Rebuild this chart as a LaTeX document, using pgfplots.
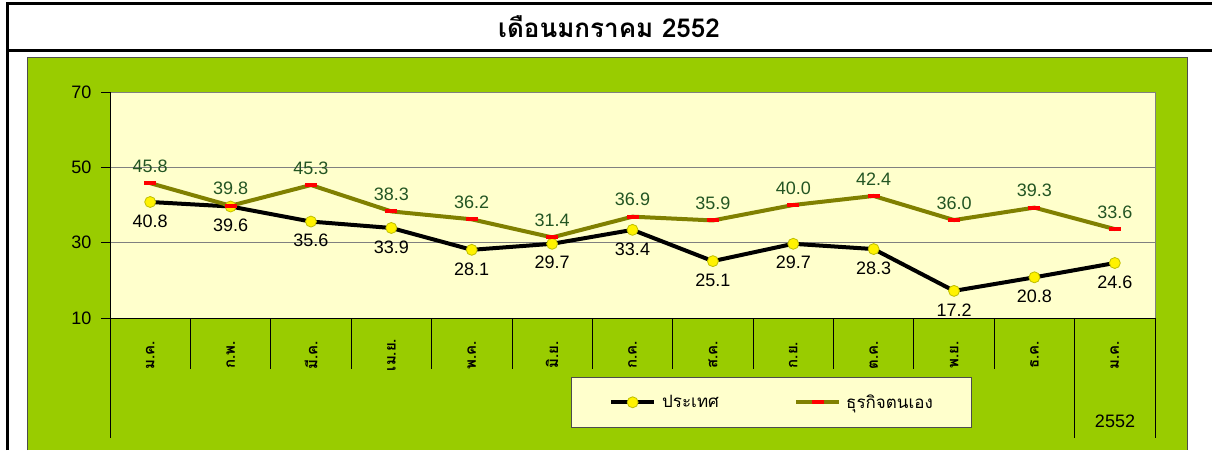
\documentclass[border=0pt]{standalone}
\usepackage{fontspec}
\setmainfont{Liberation Sans}
\newfontfamily\thaifont[Script=Thai]{Loma}
\usepackage{pgfplots}
\usepackage{pgfplotstable}
\pgfplotsset{compat=1.18}
\definecolor{limebg}{RGB}{153,204,0}
\definecolor{plotbg}{RGB}{255,255,204}
\definecolor{olivel}{RGB}{128,128,0}
\definecolor{lblgreen}{RGB}{35,85,35}
\definecolor{mkedge}{RGB}{190,190,0}

\pgfplotstableread{
x y lab
0 40.8 40.8
1 39.6 39.6
2 35.6 35.6
3 33.9 33.9
4 28.1 28.1
5 29.7 29.7
6 33.4 33.4
7 25.1 25.1
8 29.7 29.7
9 28.3 28.3
10 17.2 17.2
11 20.8 20.8
12 24.6 24.6
}\countrydata

\pgfplotstableread{
x y lab
0 45.8 45.8
1 39.8 39.8
2 45.3 45.3
3 38.3 38.3
4 36.2 36.2
5 31.4 31.4
6 36.9 36.9
7 35.9 35.9
8 40.0 40.0
9 42.4 42.4
10 36.0 36.0
11 39.3 39.3
12 33.6 33.6
}\owndata

\begin{document}
\begin{tikzpicture}[x=1pt,y=1pt]
\path[use as bounding box] (0,0) rectangle (1212,450);
\fill[white] (0,0) rectangle (1212,450);
\fill[limebg] (27,0) rectangle (1187,392);
\draw[black!70, line width=1pt] (27,0) -- (27,392) -- (1187,392) -- (1187,0);
\draw[line width=3pt] (7,0) -- (7,446) -- (1212,446);
\draw[line width=3pt] (7,399) -- (1212,399);
\node[font=\thaifont\bfseries\fontsize{26}{30}\selectfont] at (609,423) {เดือนมกราคม 2552};

\coordinate (axorigin) at (110,132);

\begin{axis}[
  at={(axorigin)}, anchor=south west,
  scale only axis, width=1045pt, height=226pt,
  xmin=-0.5, xmax=12.5, ymin=10, ymax=70,
  xtick=\empty, ytick={10,30,50,70},
  tick pos=left, tick align=outside, major tick length=9pt,
  ytick style={black, line width=0.8pt},
  ymajorgrids, grid style={gray, line width=0.6pt},
  axis background/.style={fill=plotbg},
  axis line style={gray, line width=0.8pt},
  tick label style={font=\fontsize{18}{21}\selectfont},
  yticklabel style={xshift=-6pt},
  /pgf/number format/assume math mode=true,
  clip=false,
  legend columns=2,
  legend style={at={(0.4411,-0.2611)}, anchor=north west, draw=black!70, fill=plotbg,
    font=\thaifont\fontsize{17}{20}\selectfont, inner xsep=38pt, inner ysep=17.5pt,
    nodes={inner sep=0pt}, /tikz/column sep=0pt},
  legend image code/.code={\draw[mark repeat=2,mark phase=2,#1] plot coordinates {(0pt,0pt) (21.5pt,0pt) (43pt,0pt)};},
]
\addplot[black, line width=4pt, line join=round, mark=*, mark size=5.5pt,
  mark options={fill=yellow, draw=mkedge, line width=0.8pt},
  nodes near coords, point meta=explicit symbolic,
  every node near coord/.style={font=\fontsize{18}{21}\selectfont, anchor=center, yshift=-19pt, text=black}]
  table[x=x, y=y, meta=lab] {\countrydata};
\addlegendentry{\makebox[138pt][l]{\hspace{6pt}ประเทศ}}
\addplot[olivel, line width=4pt, line join=round, mark=-, mark size=6pt,
  mark options={draw=red, line width=4pt},
  nodes near coords, point meta=explicit symbolic,
  every node near coord/.style={font=\fontsize{18}{21}\selectfont, anchor=center, yshift=17pt, text=lblgreen}]
  table[x=x, y=y, meta=lab] {\owndata};
\addlegendentry{\makebox[92pt][l]{\hspace{5pt}ธุรกิจตนเอง}}
\draw[black, line width=0.8pt] (rel axis cs:0,0) -- (rel axis cs:1,0);
\draw[black, line width=0.8pt] (rel axis cs:0,0) -- (rel axis cs:0,1);
\end{axis}

\foreach \k in {0,...,13} {
  \draw[black, line width=0.8pt] ({110+80.3846*\k},132) -- ({110+80.3846*\k},81);
}
\foreach \k in {0,12,13} {
  \draw[black, line width=0.8pt] ({110+80.3846*\k},132) -- ({110+80.3846*\k},12);
}
\foreach \k/\m in {0/ม.ค.,1/ก.พ.,2/มี.ค.,3/เม.ย.,4/พ.ค.,5/มิ.ย.,6/ก.ค.,7/ส.ค.,8/ก.ย.,9/ต.ค.,10/พ.ย.,11/ธ.ค.,12/ม.ค.} {
  \node[rotate=90, font=\thaifont\bfseries\fontsize{15}{18}\selectfont] at ({150.19+80.3846*\k},95) {\m};
}
\node[font=\fontsize{18}{21}\selectfont] at (1115,29) {2552};
\end{tikzpicture}
\end{document}
